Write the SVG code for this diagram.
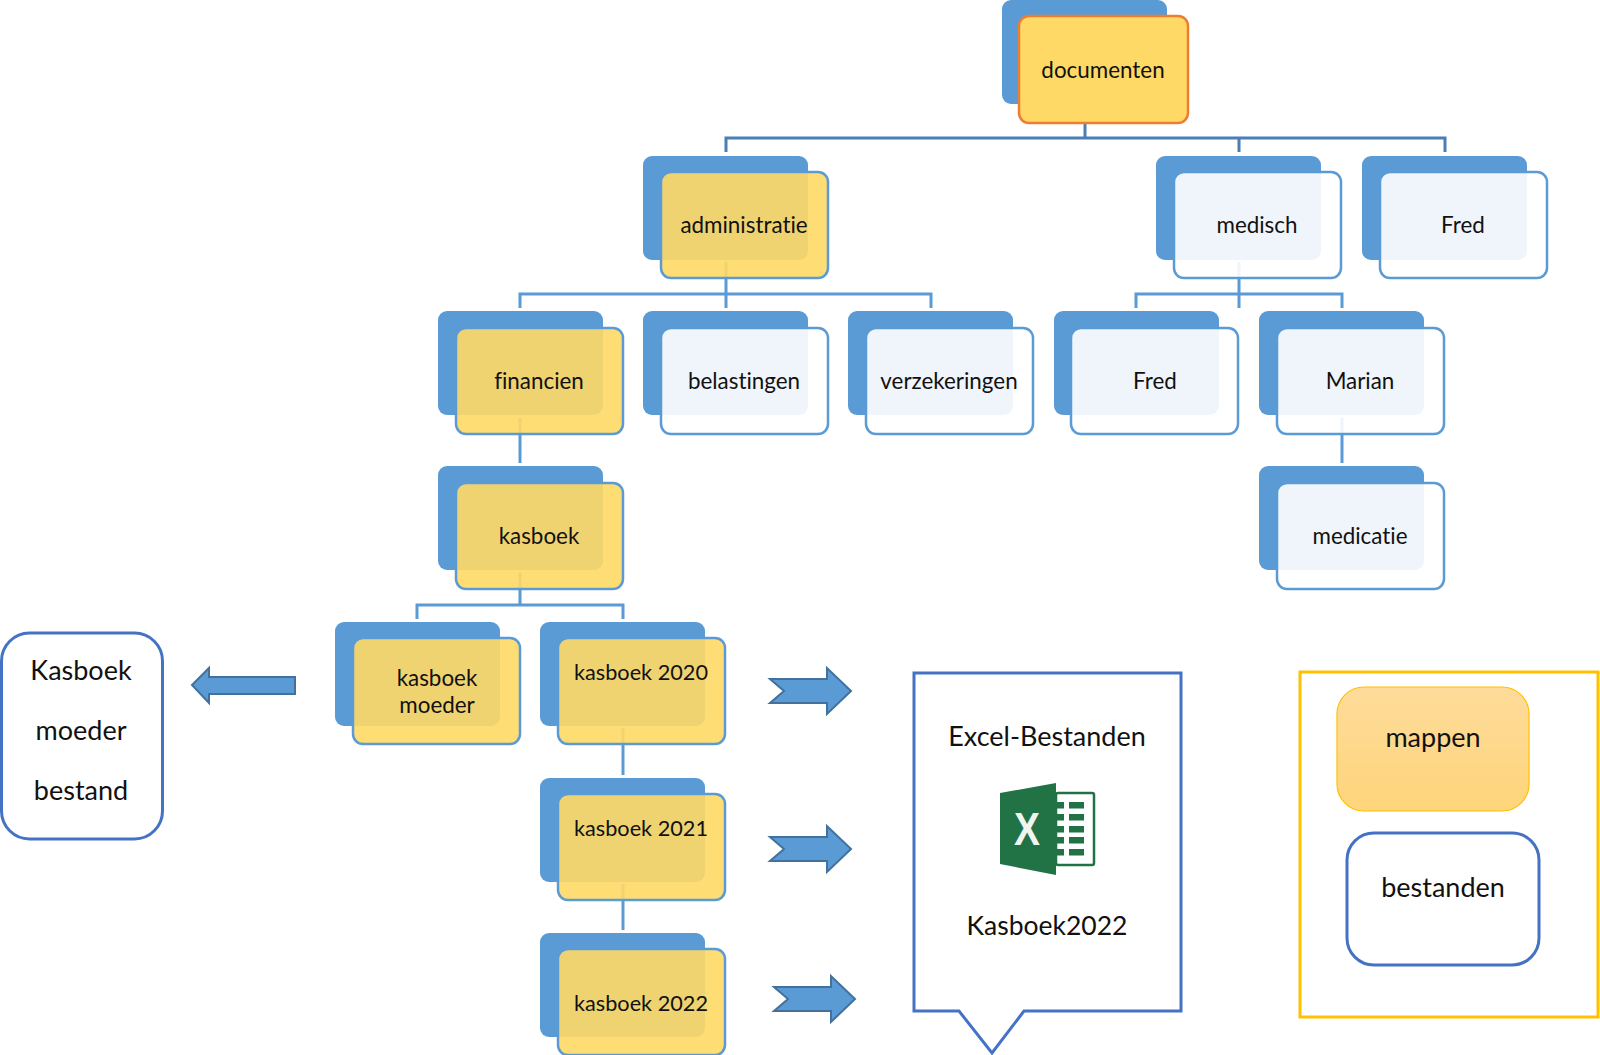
<svg xmlns="http://www.w3.org/2000/svg" width="1600" height="1055" viewBox="0 0 1600 1055">
<style>
text{font-family:"Lato","Liberation Sans",sans-serif;fill:#111;text-anchor:middle;font-variant-ligatures:none}
.t{font-size:22.4px}.n{font-size:21.700px}.b{font-size:27px}
.back{fill:#5b9bd5}
.y{fill:#ffd966;fill-opacity:.9;stroke:#5b9bd5;stroke-width:2.5}
.w{fill:#fff;fill-opacity:.9;stroke:#5b9bd5;stroke-width:2.5}
.c{fill:none;stroke:#5b9bd5;stroke-width:3}
.c0{fill:none;stroke:#4a7fb5;stroke-width:3}
.a{fill:#5b9bd5;stroke:#41719c;stroke-width:2}
.o{fill:#fff;stroke:#4472c4;stroke-width:3}
.g{fill:#217346}
</style>
<defs>
<linearGradient id="lg" x1="0" y1="0" x2="0" y2="1"><stop offset="0" stop-color="#fedb9b"/><stop offset="1" stop-color="#fed57a"/></linearGradient>
</defs>
<rect width="1600" height="1055" fill="#fff"/>
<g id="connectors">
<path class="c0" d="M1085 122V138M726 152V138H1445V152M1239 138V152"/>
<path class="c" d="M726 262V308M520 308V294H931V308"/>
<path class="c" d="M1239 262V308M1136 308V294H1342V308"/>
<path class="c" d="M520 418V463"/>
<path class="c" d="M1342 418V463"/>
<path class="c" d="M520 573V606M417 619V605H623V619"/>
<path class="c" d="M623 728V775"/>
<path class="c" d="M623 884V930"/>
</g>
<g id="n-documenten"><rect class="back" x="1002" y="0" width="165" height="104" rx="9"/><rect x="1019" y="16" width="169" height="107" rx="10" fill="#ffd966" stroke="#ed7d31" stroke-width="2.5"/><text class="t" x="1103" y="77.500">documenten</text></g>
<g id="n-administratie"><rect class="back" x="643" y="156" width="165" height="104" rx="9"/><rect class="y" x="661" y="172" width="167" height="106" rx="10"/><text class="t" x="744" y="232.500">administratie</text></g>
<g id="n-medisch"><rect class="back" x="1156" y="156" width="165" height="104" rx="9"/><rect class="w" x="1174" y="172" width="167" height="106" rx="10"/><text class="t" x="1257" y="232.500">medisch</text></g>
<g id="n-fred1"><rect class="back" x="1362" y="156" width="165" height="104" rx="9"/><rect class="w" x="1380" y="172" width="167" height="106" rx="10"/><text class="t" x="1463" y="232.500">Fred</text></g>
<g id="n-financien"><rect class="back" x="438" y="311" width="165" height="104" rx="9"/><rect class="y" x="456" y="328" width="167" height="106" rx="10"/><text class="t" x="539" y="388.500">financien</text></g>
<g id="n-belastingen"><rect class="back" x="643" y="311" width="165" height="104" rx="9"/><rect class="w" x="661" y="328" width="167" height="106" rx="10"/><text class="t" x="744" y="388.500">belastingen</text></g>
<g id="n-verzekeringen"><rect class="back" x="848" y="311" width="165" height="104" rx="9"/><rect class="w" x="866" y="328" width="167" height="106" rx="10"/><text class="t" x="949" y="388.500">verzekeringen</text></g>
<g id="n-fred2"><rect class="back" x="1054" y="311" width="165" height="104" rx="9"/><rect class="w" x="1071" y="328" width="167" height="106" rx="10"/><text class="t" x="1155" y="388.500">Fred</text></g>
<g id="n-marian"><rect class="back" x="1259" y="311" width="165" height="104" rx="9"/><rect class="w" x="1277" y="328" width="167" height="106" rx="10"/><text class="t" x="1360" y="388.500">Marian</text></g>
<g id="n-kasboek"><rect class="back" x="438" y="466" width="165" height="104" rx="9"/><rect class="y" x="456" y="483" width="167" height="106" rx="10"/><text class="t" x="539" y="543.500">kasboek</text></g>
<g id="n-medicatie"><rect class="back" x="1259" y="466" width="165" height="104" rx="9"/><rect class="w" x="1277" y="483" width="167" height="106" rx="10"/><text class="t" x="1360" y="543.500">medicatie</text></g>
<g id="n-kasboek-moeder"><rect class="back" x="335" y="622" width="165" height="104" rx="9"/><rect class="y" x="353" y="638" width="167" height="106" rx="10"/><text class="t" x="437" y="685.500">kasboek</text><text class="t" x="437" y="712.500">moeder</text></g>
<g id="n-kasboek2020"><rect class="back" x="540" y="622" width="165" height="104" rx="9"/><rect class="y" x="558" y="638" width="167" height="106" rx="10"/><text class="n" x="641" y="680">kasboek 2020</text></g>
<g id="n-kasboek2021"><rect class="back" x="540" y="778" width="165" height="104" rx="9"/><rect class="y" x="558" y="794" width="167" height="106" rx="10"/><text class="n" x="641" y="836">kasboek 2021</text></g>
<g id="n-kasboek2022"><rect class="back" x="540" y="933" width="165" height="104" rx="9"/><rect class="y" x="558" y="949" width="167" height="106" rx="10"/><text class="n" x="641" y="1011">kasboek 2022</text></g>
<g id="n-kasboek-bestand"><rect class="o" x="1.5" y="633" width="161" height="206" rx="28"/><text class="b" x="81" y="680">Kasboek</text><text class="b" x="81" y="740">moeder</text><text class="b" x="81" y="800">bestand</text></g>
<g id="arrows">
<path class="a" d="M295 677H209V668L192 685L209 703V694H295Z"/>
<path class="a" d="M770 679H827V668L851 691L827 714V703H770L784 691Z"/>
<path class="a" d="M770 837H827V826L851 849L827 872V861H770L784 849Z"/>
<path class="a" d="M774 987H831V976L855 999L831 1022V1011H774L788 999Z"/>
</g>
<g id="n-excel">
<path class="o" d="M914 673H1181V1011H1024L992 1053L959 1011H914Z"/>
<text class="b" x="1047" y="746">Excel-Bestanden</text>
<rect x="1056" y="793" width="38" height="72" rx="2" fill="#fff" stroke="#217346" stroke-width="2.5"/>
<path class="g" d="M1057 802h7v6.500h-7zM1069 802h15v6.500h-15zM1057 814h7v6.500h-7zM1069 814h15v6.500h-15zM1057 826h7v6.500h-7zM1069 826h15v6.500h-15zM1057 837h7v6.500h-7zM1069 837h15v6.500h-15zM1057 849h7v6.500h-7zM1069 849h15v6.500h-15z"/>
<path class="g" d="M1000 793L1056 783V875L1000 864Z"/>
<text x="1027" y="845" textLength="26" lengthAdjust="spacingAndGlyphs" style="font-family:'Liberation Sans',sans-serif;font-size:47px;font-weight:700;fill:#f0f5f2">X</text>
<text class="b" x="1047" y="935" style="font-size:26.500px">Kasboek2022</text>
</g>
<g id="legend">
<rect x="1300" y="672" width="298" height="345" fill="none" stroke="#ffc000" stroke-width="3"/>
<g id="n-mappen"><rect x="1337" y="687" width="192" height="124" rx="27" fill="url(#lg)" stroke="#ffc000" stroke-width="1.2"/><text class="b" x="1433" y="747">mappen</text></g>
<g id="n-bestanden"><rect class="o" x="1347" y="833" width="192" height="132" rx="27"/><text class="b" x="1443" y="897">bestanden</text></g>
</g>
</svg>
